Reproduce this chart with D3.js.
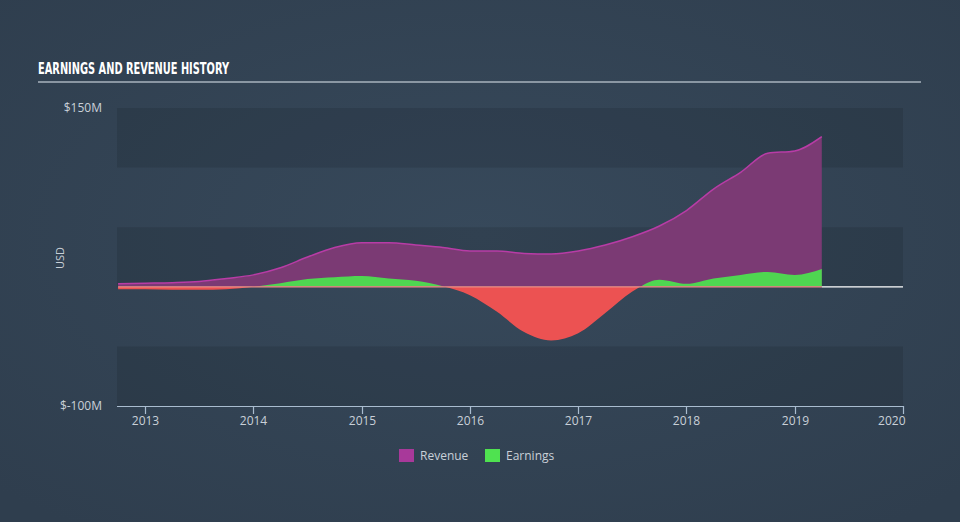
<!DOCTYPE html>
<html><head><meta charset="utf-8">
<script src="https://cdn.jsdelivr.net/npm/d3@7"></script>
<style>
html,body{margin:0;padding:0;background:#344556;}
svg{display:block;}
</style></head>
<body>
<svg id="chart" width="960" height="522"></svg>
<script>
// ---- data ----
const dates = [2012.75,2013.0,2013.25,2013.5,2013.75,2014.0,2014.25,2014.5,2014.75,2015.0,2015.25,2015.5,2015.75,2016.0,2016.25,2016.5,2016.75,2017.0,2017.25,2017.5,2017.75,2018.0,2018.25,2018.5,2018.75,2019.0,2019.25];
const revenue = [2.5,3,3.5,4.5,7,10,16,25,33,37,37,35,33,30,30,28,27.5,30,35,42,51,64,82,96,112,114,126];
const earnings = [-2,-2,-2.5,-2.5,-2,0,3,6.5,8,9,7,5,0.5,-7,-21,-38,-45,-39,-22,-4,6,2.5,7,10,12.5,10,15];
const yTickValues = [150,-100];
const yTickLabels = ["$150M","$-100M"];
const xTickYears = [2013,2014,2015,2016,2017,2018,2019,2020];
const seriesNames = ["Revenue","Earnings"];

const svg = d3.select("#chart");
const W = 960, H = 522;

// background gradient
const defs = svg.append("defs");
const rg = defs.append("radialGradient").attr("id","bg").attr("cx","50%").attr("cy","45%").attr("r","70%");
rg.append("stop").attr("offset","0%").attr("stop-color","#37495b");
rg.append("stop").attr("offset","100%").attr("stop-color","#2f3e4e");
svg.append("rect").attr("width",W).attr("height",H).attr("fill","url(#bg)");

const x = d3.scaleLinear().domain([2012.74, 2020]).range([117, 903]);
const y = d3.scaleLinear().domain([-100, 150]).range([406, 108]);

// bands
const bands = [[150,100,0.1],[100,50,0.0],[50,0,0.1],[0,-50,0.0],[-50,-100,0.1]];
svg.append("g").selectAll("rect").data(bands).join("rect")
  .attr("x", x.range()[0]).attr("width", x.range()[1]-x.range()[0])
  .attr("y", d=>y(d[0])).attr("height", d=>y(d[1])-y(d[0]))
  .attr("fill","#000").attr("fill-opacity", d=>d[2]);

// title
svg.append("text").attr("x",38).attr("y",74)
  .attr("font-family","'Liberation Sans Narrow','DejaVu Sans Condensed',sans-serif")
  .attr("font-weight","bold").attr("font-size",16).attr("fill","#ffffff")
  .attr("textLength",191).attr("lengthAdjust","spacingAndGlyphs")
  .text("EARNINGS AND REVENUE HISTORY");
svg.append("line").attr("x1",38).attr("x2",921).attr("y1",82).attr("y2",82)
  .attr("stroke","#a9b3be").attr("stroke-width",1.5);

// y labels
svg.append("g").selectAll("text").data(yTickValues).join("text")
  .attr("x",102).attr("y",d=>y(d)+4).attr("text-anchor","end")
  .attr("font-family","'Open Sans',sans-serif").attr("font-size",12).attr("fill","#c9d0d8")
  .text((d,i)=>yTickLabels[i]);
svg.append("text").attr("transform","translate(64,258) rotate(-90)")
  .attr("text-anchor","middle").attr("font-family","'Open Sans',sans-serif")
  .attr("font-size",11).attr("fill","#c9d0d8").text("USD");

const idx = d3.range(dates.length);
const curve = d3.curveMonotoneX;

// revenue area
svg.append("path").datum(idx)
  .attr("d", d3.area().curve(curve).x(i=>x(dates[i])).y0(y(0)).y1(i=>y(revenue[i])))
  .attr("fill","#7b3a74");
svg.append("path").datum(idx)
  .attr("d", d3.line().curve(curve).x(i=>x(dates[i])).y(i=>y(revenue[i])))
  .attr("fill","none").attr("stroke","#b83ca6").attr("stroke-width",1.5);

// earnings with clip
defs.append("clipPath").attr("id","pos").append("rect")
  .attr("x",0).attr("y",0).attr("width",W).attr("height",y(0));
defs.append("clipPath").attr("id","neg").append("rect")
  .attr("x",0).attr("y",y(0)).attr("width",W).attr("height",H-y(0));
const earnArea = d3.area().curve(curve).x(i=>x(dates[i])).y0(y(0)).y1(i=>y(earnings[i]));
svg.append("path").datum(idx).attr("d",earnArea).attr("fill","#4fd651").attr("clip-path","url(#pos)");
svg.append("path").datum(idx).attr("d",earnArea).attr("fill","#ec5252").attr("clip-path","url(#neg)");

// zero lines
svg.append("line").attr("x1",x(dates[0])).attr("x2",x(dates[dates.length-1]))
  .attr("y1",y(0)).attr("y2",y(0)).attr("stroke","#f08a8a").attr("stroke-width",1.2);
svg.append("line").attr("x1",x(dates[dates.length-1])).attr("x2",x.range()[1])
  .attr("y1",y(0)).attr("y2",y(0)).attr("stroke","#ffffff").attr("stroke-width",1.2);

// x axis
const axisColor = "#a9bccf";
const gx = svg.append("g").attr("transform",`translate(0,${y(-100)})`);
gx.append("line").attr("x1",x.range()[0]).attr("x2",x.range()[1]).attr("y1",0.5).attr("y2",0.5)
  .attr("stroke",axisColor).attr("stroke-width",1.2);
const ticks = gx.selectAll("g.tk").data(xTickYears).join("g").attr("class","tk")
  .attr("transform",d=>`translate(${Math.round(x(d))+0.5},0)`);
ticks.append("line").attr("y1",0).attr("y2",8).attr("stroke",axisColor).attr("stroke-width",1.2);
ticks.append("text").attr("y",19).attr("text-anchor",(d,i)=>i===xTickYears.length-1?"end":"middle")
  .attr("dx",(d,i)=>i===xTickYears.length-1?2:0)
  .attr("font-family","'Open Sans',sans-serif").attr("font-size",12).attr("fill","#c9d0d8")
  .text(d3.format("d"));

// legend
const legColors = ["#a8399a","#4fe250"];
const legX = [399,485];
const lg = svg.append("g").selectAll("g").data(seriesNames).join("g")
  .attr("transform",(d,i)=>`translate(${legX[i]},449)`);
lg.append("rect").attr("width",15).attr("height",13).attr("fill",(d,i)=>legColors[i]);
lg.append("text").attr("x",21).attr("y",11).attr("font-family","'Open Sans',sans-serif")
  .attr("font-size",12).attr("fill","#c9d0d8").text(d=>d);
</script>
</body></html>
